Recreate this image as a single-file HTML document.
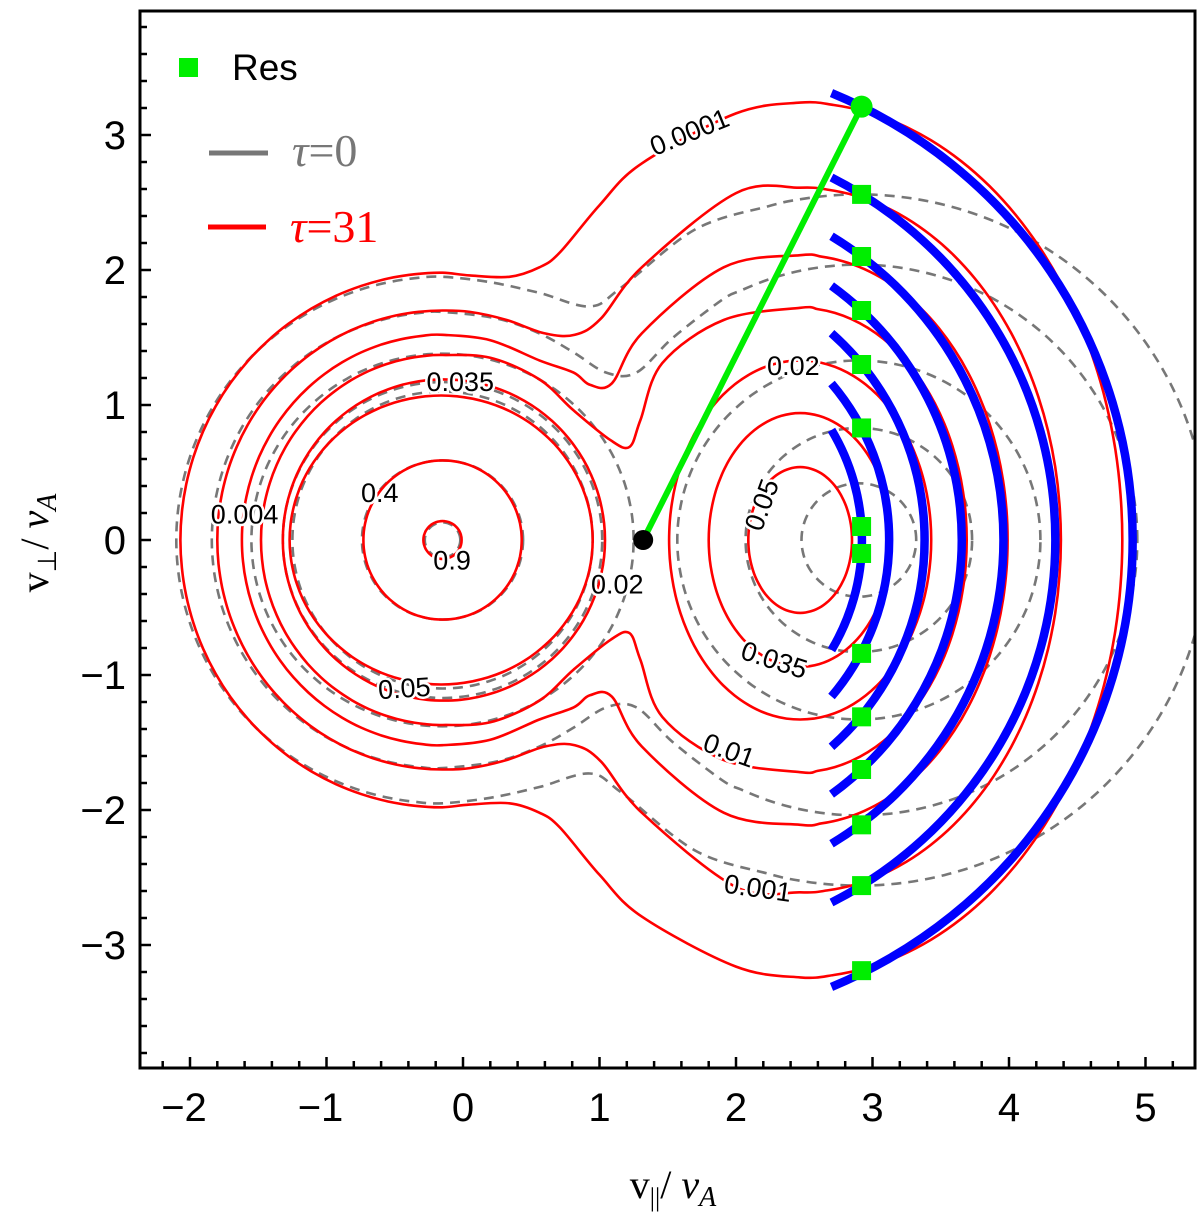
<!DOCTYPE html>
<html><head><meta charset="utf-8"><style>
html,body{margin:0;padding:0;background:#fff;}
svg{display:block;}
</style></head><body>
<svg id="chart" width="1200" height="1221" viewBox="0 0 1200 1221" xmlns="http://www.w3.org/2000/svg">
<defs><clipPath id="plotclip"><rect x="140" y="11" width="1055" height="1057"/></clipPath></defs>
<rect x="0" y="0" width="1200" height="1221" fill="#fff"/>
<g id="plot" clip-path="url(#plotclip)"></g>
<g id="axes"></g>
<rect x="140" y="11" width="1055" height="1057" fill="none" stroke="#000" stroke-width="3"/>
<g>
  <rect x="179" y="58" width="19" height="19" fill="#00ee00"/>
  <text x="232" y="80" font-family="Liberation Sans, sans-serif" font-size="37" fill="#000">Res</text>
  <line x1="209" y1="153" x2="268" y2="153" stroke="#777" stroke-width="5"/>
  <text x="292" y="166" font-family="Liberation Serif, serif" font-size="46" fill="#777"><tspan font-style="italic">τ</tspan>=0</text>
  <line x1="208" y1="227" x2="266" y2="227" stroke="#f00" stroke-width="5"/>
  <text x="290" y="242" font-family="Liberation Serif, serif" font-size="46" fill="#f00"><tspan font-style="italic">τ</tspan>=31</text>
</g>
<text x="673" y="1198" text-anchor="middle" font-family="Liberation Serif, serif" font-size="40" fill="#000">v<tspan font-size="26" dy="8">||</tspan><tspan dy="-8">/ </tspan><tspan font-style="italic">v</tspan><tspan font-style="italic" font-size="28" dy="8">A</tspan></text>
<text transform="translate(48,543) rotate(-90)" text-anchor="middle" font-family="Liberation Serif, serif" font-size="40" fill="#000">v<tspan font-size="26" dy="8">⊥</tspan><tspan dy="-8">/ </tspan><tspan font-style="italic">v</tspan><tspan font-style="italic" font-size="28" dy="8">A</tspan></text>
</svg>
<script>
// ---- data (axes units) ----
const xTicks = [-2,-1,0,1,2,3,4,5];
const yTicks = [-3,-2,-1,0,1,2,3];
const xTickLabels = ['−2','−1','0','1','2','3','4','5'];
const yTickLabels = ['−3','−2','−1','0','1','2','3'];
// tau=31 merged contours: [rightCx, rx, ry, thetaR, leftCx, lrx, lry, thetaL]
const redMergedShape = [
  [2.47,2.36,3.24,90,-0.15,1.92,1.98,90],
  [2.47,1.91,2.61,90,-0.15,1.65,1.70,90],
  [2.47,1.52,2.11,90,-0.15,1.47,1.52,90],
  [2.47,1.22,1.72,90,-0.15,1.33,1.37,90]
];
const redMergedNeck = [
  [[2.00,3.16],[1.31,2.79],[1.00,2.48],[0.71,2.13],[0.56,2.02],[0.34,1.95],[0.05,1.96]],
  [[2.00,2.57],[1.31,2.02],[1.01,1.64],[0.82,1.52],[0.60,1.53],[0.32,1.63],[0.05,1.69]],
  [[1.91,2.02],[1.31,1.53],[1.09,1.16],[0.93,1.15],[0.81,1.24],[0.56,1.33],[0.20,1.48]],
  [[1.91,1.63],[1.46,1.31],[1.30,0.89],[1.22,0.69],[1.08,0.74],[0.81,0.96],[0.56,1.19],[0.20,1.35]]
];
// closed red ellipses: [cx, rx, ry]
const redClosed = [[-0.14,1.18,1.19],[-0.16,1.11,1.07],[-0.15,0.58,0.59],[-0.15,0.14,0.14],
                   [2.47,0.96,1.33],[2.47,0.67,0.94],[2.47,0.38,0.54]];
// tau=0 merged contours
const grayMergedShape = [
  [2.90,2.56,2.56,105,-0.15,1.95,1.95,90],
  [2.90,2.04,2.04,115,-0.15,1.69,1.69,90]
];
const grayMergedNeck = [
  [[1.70,2.30],[1.16,1.87],[0.93,1.73],[0.56,1.83],[0.20,1.91]],
  [[1.90,1.78],[1.54,1.50],[1.27,1.24],[1.05,1.24],[0.81,1.39],[0.56,1.53],[0.25,1.64]]
];
const grayClosed = [[-0.15,1.40,1.38],[-0.15,1.17,1.17],[-0.15,1.10,1.10],[-0.15,0.59,0.59],[-0.15,0.13,0.13],
                    [2.90,1.33,1.33],[2.90,0.83,0.83],[2.90,0.42,0.42]];
// resonance
const resCenter = [1.32,0];
const resX = 2.92;
const resYTop = [0.10,0.83,1.30,1.70,2.10,2.56,3.21];
const resYBottom = [-0.10,-0.84,-1.31,-1.70,-2.11,-2.56,-3.19];
const resArcStartX = 2.7;
// contour labels
const labelText = ['0.0001','0.035','0.4','0.004','0.9','0.02','0.02','0.05','0.05','0.035','0.01','0.001'];
const labelX = [1.66,-0.02,-0.61,-1.60,-0.08,1.13,2.42,2.19,-0.43,2.28,1.95,2.16];
const labelY = [3.02,1.17,0.35,0.19,-0.15,-0.33,1.29,0.26,-1.10,-0.89,-1.56,-2.58];
const labelRot = [-22,0,0,0,0,0,0,-70,-4,18,20,8];

// ---- axis functions ----
const X = v => 463 + v*136.5;
const Y = v => 540 - v*135;
const NS='http://www.w3.org/2000/svg';
const plot=document.getElementById('plot');
const axes=document.getElementById('axes');
function mk(tag, attrs, parent){const e=document.createElementNS(NS,tag);for(const k in attrs)e.setAttribute(k,attrs[k]);parent.appendChild(e);return e;}

function ellPts(cx,rx,ry,a0,a1){const pts=[];const n=Math.max(4,Math.round(Math.abs(a1-a0)/6));for(let i=0;i<=n;i++){const a=(a0+(a1-a0)*i/n)*Math.PI/180;pts.push([cx+rx*Math.cos(a),ry*Math.sin(a)]);}return pts;}
function crPath(pts){
  const p=pts.map(q=>[X(q[0]),Y(q[1])]);const n=p.length;let d='M'+p[0][0].toFixed(1)+','+p[0][1].toFixed(1);
  for(let i=0;i<n;i++){const p0=p[(i-1+n)%n],p1=p[i],p2=p[(i+1)%n],p3=p[(i+2)%n];
    const c1=[p1[0]+(p2[0]-p0[0])/6,p1[1]+(p2[1]-p0[1])/6],c2=[p2[0]-(p3[0]-p1[0])/6,p2[1]-(p3[1]-p1[1])/6];
    d+='C'+c1[0].toFixed(1)+','+c1[1].toFixed(1)+' '+c2[0].toFixed(1)+','+c2[1].toFixed(1)+' '+p2[0].toFixed(1)+','+p2[1].toFixed(1);}
  return d+'Z';}
function mergedPts(s,neck){
  let up=ellPts(s[0],s[1],s[2],0,s[3]);
  up=up.concat(neck);
  up=up.concat(ellPts(s[4],s[5],s[6],s[7],180));
  const low=up.slice(1,up.length-1).reverse().map(q=>[q[0],-q[1]]);
  return up.concat(low);}
function closedPts(c){return ellPts(c[0],c[1],c[2],0,354);}

grayMergedShape.forEach((s,i)=>{const e=mk('path',{d:crPath(mergedPts(s,grayMergedNeck[i])),fill:'none',stroke:'#777','stroke-width':2.6,'stroke-dasharray':'10 7'},plot);

});
grayClosed.forEach(c=>{const e=mk('path',{d:crPath(closedPts(c)),fill:'none',stroke:'#777','stroke-width':2.6,'stroke-dasharray':'10 7'},plot);

});
redMergedShape.forEach((s,i)=>{const e=mk('path',{d:crPath(mergedPts(s,redMergedNeck[i])),fill:'none',stroke:'#f00','stroke-width':2.6},plot);

});
redClosed.forEach(c=>{const e=mk('path',{d:crPath(closedPts(c)),fill:'none',stroke:'#f00','stroke-width':2.6},plot);

});
resYTop.forEach((yv,i)=>{const R=Math.hypot(resX-resCenter[0],yv);const dx=resArcStartX-resCenter[0];const a=Math.acos(Math.min(1,dx/R));
  const x0=X(resCenter[0]+R*Math.cos(a)), y0=Y(R*Math.sin(a)), y1=Y(-R*Math.sin(a));
  const e=mk('path',{d:'M'+x0.toFixed(1)+','+y0.toFixed(1)+' A'+(R*136.5).toFixed(1)+','+(R*135).toFixed(1)+' 0 0 1 '+x0.toFixed(1)+','+y1.toFixed(1),fill:'none',stroke:'#0000ff','stroke-width':8.5},plot);
  
  });
{const top=resYTop[resYTop.length-1];const e=mk('line',{x1:X(resCenter[0]),y1:Y(resCenter[1]),x2:X(resX),y2:Y(top),stroke:'#00ee00','stroke-width':6},plot);

}
resYTop.concat(resYBottom).forEach((yv,i)=>{if(i===resYTop.length-1){const e=mk('circle',{cx:X(resX),cy:Y(yv),r:11,fill:'#00ee00'},plot);
  
  return;}
  const e=mk('rect',{x:X(resX)-9.5,y:Y(yv)-9.5,width:19,height:19,fill:'#00ee00'},plot);
  
  });
{const e=mk('circle',{cx:X(resCenter[0]),cy:Y(resCenter[1]),r:10,fill:'#000'},plot);

}
labelText.forEach((t,i)=>{const x=X(labelX[i]),y=Y(labelY[i]);const e=mk('text',{x:x,y:y,'text-anchor':'middle','dominant-baseline':'central','font-family':'Liberation Sans, sans-serif','font-size':27,fill:'#000',stroke:'#fff','stroke-width':5,'paint-order':'stroke',transform:'rotate('+labelRot[i]+' '+x+' '+y+')'},plot);
e.textContent=t;

});
for(let k=-22;k<=52;k+=2){const v=k/10;const major=(k%10===0);const x=X(v);
  const e=mk('line',{x1:x,y1:1068,x2:x,y2:1068-(major?11:7),stroke:'#000','stroke-width':2.5},axes);
  
  }
for(let k=-38;k<=38;k+=2){const v=k/10;const major=(k%10===0);const y=Y(v);
  const e=mk('line',{x1:140,y1:y,x2:140+(major?11:7),y2:y,stroke:'#000','stroke-width':2.5},axes);
  
  }
xTicks.forEach((v,i)=>{const e=mk('text',{x:X(v)-(v<0?6:0),y:1121,'text-anchor':'middle','font-family':'Liberation Sans, sans-serif','font-size':40,fill:'#000'},axes);
e.textContent=xTickLabels[i];

});
yTicks.forEach((v,i)=>{const e=mk('text',{x:126,y:Y(v)+14,'text-anchor':'end','font-family':'Liberation Sans, sans-serif','font-size':40,fill:'#000'},axes);
e.textContent=yTickLabels[i];

});
</script>
</body></html>
